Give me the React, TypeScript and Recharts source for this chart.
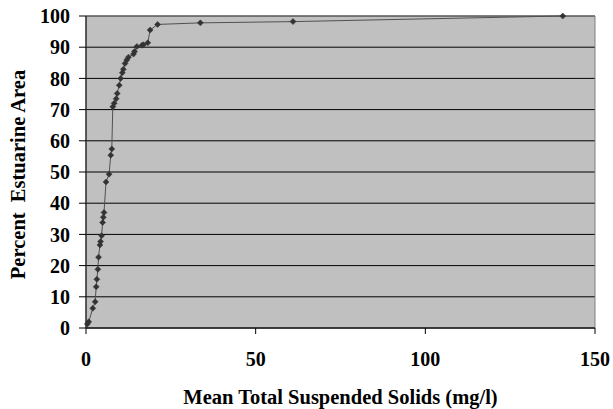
import React from 'react';
import { LineChart, Line, XAxis, YAxis, CartesianGrid, ReferenceArea } from 'recharts';

const tssValues = [0.4, 0.8, 2.0, 2.7, 3.0, 3.2, 3.5, 3.7, 4.1, 4.3, 4.6, 4.9, 5.1, 5.3, 5.9, 6.8, 7.3, 7.6, 7.9, 8.3, 8.9, 9.2, 9.8, 10.2, 10.7, 11.0, 11.5, 12.0, 12.5, 14.0, 14.3, 15.0, 16.5, 16.9, 18.2, 18.9, 21.1, 33.7, 61.0, 140.5];
const areaPercent = [1.3, 2.0, 6.3, 8.4, 13.2, 15.6, 18.8, 22.7, 26.6, 27.7, 29.6, 33.8, 35.5, 37.0, 46.8, 49.3, 55.4, 57.4, 70.9, 72.0, 73.5, 75.2, 77.8, 80.0, 81.8, 82.9, 84.8, 85.9, 86.8, 87.8, 88.6, 90.2, 90.6, 90.8, 91.4, 95.5, 97.3, 97.8, 98.2, 100];
const xTicks = [0, 50, 100, 150];
const yTicks = [0, 10, 20, 30, 40, 50, 60, 70, 80, 90, 100];
const xTitle = 'Mean Total Suspended Solids (mg/l)';
const yTitle = 'Percent\u00A0 Estuarine Area';

const data = tssValues.map((x, i) => ({ x, y: areaPercent[i] }));

const FONT = '"Liberation Serif", "Times New Roman", serif';
const FS = 20;
const TITLE_FS = 20.5;

const Diamond = (props: any) => {
  const { cx, cy } = props;
  if (cx == null || cy == null) return null;
  const r = 3;
  return <path d={`M${cx},${cy - r}L${cx + r},${cy}L${cx},${cy + r}L${cx - r},${cy}Z`} fill="#333333" stroke="#333333" strokeWidth={0.5} />;
};

const YTitle = (props: any) => {
  const vb = props.viewBox || { x: 0, y: 0, width: 0, height: 0 };
  const x = vb.x + 25;
  const y = vb.y + vb.height / 2 + 2.5;
  return (
    <text x={x} y={y} transform={`rotate(-90, ${x}, ${y})`} textAnchor="middle" fill="#000" fontFamily={FONT} fontWeight="bold" fontSize={TITLE_FS}>
      {yTitle}
    </text>
  );
};

export default function App() {
  return (
    <div style={{ position: 'absolute', left: 0, top: 0, width: 613, height: 409, background: '#fff' }}>
      <LineChart width={613} height={409} data={data} margin={{ top: 16, right: 18, left: 0, bottom: 0 }}>
        <CartesianGrid vertical={false} stroke="#000000" strokeWidth={1} fill="#C0C0C0" fillOpacity={1} />
        <ReferenceArea x1={0} x2={150} y1={0} y2={100} fill="none" stroke="#808080" strokeWidth={1} ifOverflow="visible" />
        <XAxis
          dataKey="x"
          type="number"
          domain={[0, 150]}
          ticks={xTicks}
          height={81}
          axisLine={{ stroke: '#000', strokeWidth: 1 }}
          tickLine={{ stroke: '#000' }}
          tickSize={6}
          tickMargin={18}
          tick={{ fill: '#000', fontFamily: FONT, fontWeight: 'bold', fontSize: FS }}
          label={{ value: xTitle, position: 'insideBottom', offset: 5, fill: '#000', fontFamily: FONT, fontWeight: 'bold', fontSize: TITLE_FS }}
        />
        <YAxis
          type="number"
          domain={[0, 100]}
          ticks={yTicks}
          width={86}
          axisLine={{ stroke: '#000', strokeWidth: 1 }}
          tickLine={{ stroke: '#000' }}
          tickSize={7}
          tickMargin={9}
          tick={{ fill: '#000', fontFamily: FONT, fontWeight: 'bold', fontSize: FS }}
          label={<YTitle />}
        />
        <Line
          type="linear"
          dataKey="y"
          stroke="#505050"
          strokeWidth={1}
          dot={<Diamond />}
          activeDot={false}
          isAnimationActive={false}
        />
      </LineChart>
    </div>
  );
}
